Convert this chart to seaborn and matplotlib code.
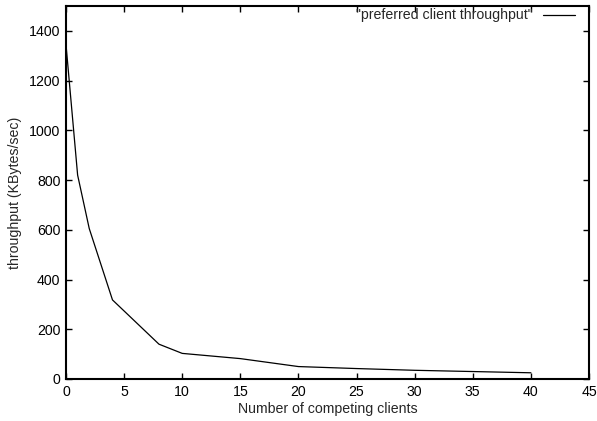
import matplotlib
matplotlib.use("Agg")
import matplotlib.pyplot as plt
import pandas as pd
import seaborn as sns

# Data
clients = [0, 1, 2, 4, 8, 10, 15, 20, 25, 30, 35, 40]
throughput = [1345, 820, 605, 318, 140, 103, 82, 50, 42, 35, 30, 25]

series_label = '"preferred client throughput"'
x_ticks = [0, 5, 10, 15, 20, 25, 30, 35, 40, 45]
y_ticks = [0, 200, 400, 600, 800, 1000, 1200, 1400]

df = pd.DataFrame({"clients": clients, "throughput": throughput})

sns.set_style("ticks")
plt.rcParams["font.family"] = ["Liberation Sans", "DejaVu Sans"]
fs = 10.2

fig = plt.figure(figsize=(5.97, 4.21), dpi=100)
ax = fig.add_axes([66 / 597, 1 - 379 / 421, (589 - 66) / 597, (379 - 6) / 421])

sns.lineplot(data=df, x="clients", y="throughput", ax=ax, color="black",
             linewidth=0.9, label=series_label)

ax.set_xlim(0, 45)
ax.set_ylim(0, 1500)
ax.set_xticks(x_ticks)
ax.set_yticks(y_ticks)
ax.tick_params(direction="in", top=True, right=True, length=4, width=1,
               labelsize=fs, colors="black", pad=4)
for s in ax.spines.values():
    s.set_linewidth(1.5)
    s.set_color("black")

ax.set_xlabel("Number of competing clients", fontsize=fs, labelpad=2.5)
ax.set_ylabel("throughput (KBytes/sec)", fontsize=fs, labelpad=5)

# gnuplot-style key: text on the left, sample line on the right
leg = ax.legend(loc="upper right", bbox_to_anchor=(1 - 14 / 523, 1 - 2.5 / 373),
                frameon=False, markerfirst=False, fontsize=fs,
                handlelength=2.26, borderaxespad=0, borderpad=0,
                handletextpad=0.7)

fig.savefig("out.png", dpi=100)
